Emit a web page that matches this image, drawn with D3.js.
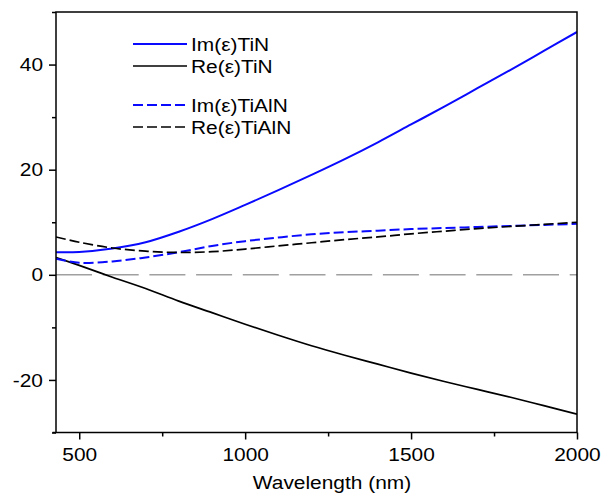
<!DOCTYPE html>
<html>
<head>
<meta charset="utf-8">
<script src="https://cdn.jsdelivr.net/npm/d3@7"></script>
<style>
  body { margin: 0; background: #fff; }
  svg text {
    font-family: "Liberation Sans", Arial, sans-serif;
    font-size: 19px;
    fill: #000;
    transform-box: fill-box;
    transform: scaleX(1.1);
  }
  .anchor-end { transform-origin: right center; }
  .anchor-middle { transform-origin: center center; }
  .anchor-start { transform-origin: left center; }
</style>
</head>
<body>
<div id="chart"></div>
<script>
// wavelength samples (nm) shared by every series
const WAVELENGTH = [430, 500, 600, 700, 800, 900, 1000, 1100, 1200, 1300, 1400, 1500, 1600, 1700, 1800, 1900, 2000];

// permittivity
const IM_TIN = [4.3, 4.35, 5.0, 6.2, 8.2, 10.6, 13.3, 16.1, 19.0, 22.0, 25.2, 28.6, 32.0, 35.5, 39.0, 42.6, 46.2];
const RE_TIN = [3.3, 1.8, -0.45, -2.6, -5.0, -7.2, -9.4, -11.5, -13.5, -15.3, -17.0, -18.7, -20.3, -21.8, -23.3, -24.9, -26.5];
const IM_TIALN = [3.05, 2.3, 2.55, 3.3, 4.3, 5.5, 6.4, 7.1, 7.7, 8.1, 8.4, 8.7, 8.9, 9.1, 9.3, 9.5, 9.7];
const RE_TIALN = [7.2, 6.2, 5.1, 4.5, 4.25, 4.4, 4.9, 5.5, 6.1, 6.7, 7.2, 7.8, 8.3, 8.8, 9.2, 9.6, 10.0];

const SERIES_NAMES = ["Im(ε)TiN", "Re(ε)TiN", "Im(ε)TiAlN", "Re(ε)TiAlN"];
const SERIES_VALUES = [IM_TIN, RE_TIN, IM_TIALN, RE_TIALN];

// ticks
const X_TICKS = [500, 1000, 1500, 2000];
const X_MINOR = [750, 1250, 1750];
const Y_TICKS = [-20, 0, 20, 40];
const Y_MINOR = [-30, -10, 10, 30, 50];

const X_TITLE = "Wavelength (nm)";

const WIDTH = 603;
const HEIGHT = 495;
const PLOT = { left: 56, right: 577, top: 12, bottom: 432.5 };

const svg = d3.select("#chart")
  .append("svg")
  .attr("width", WIDTH)
  .attr("height", HEIGHT);

const xScale = d3.scaleLinear().domain([430, 2000]).range([PLOT.left, PLOT.right]);
const yScale = d3.scaleLinear().domain([-30, 50]).range([PLOT.bottom, PLOT.top]);

// styles per series, same order as SERIES_NAMES
const colors = ["#0a0aff", "#000", "#0a0aff", "#000"];
const dashes = [null, null, "10,4", "10,4"];
const widths = [2, 1.7, 2, 1.7];

svg.append("clipPath").attr("id", "plot-clip")
  .append("rect")
  .attr("x", PLOT.left)
  .attr("y", PLOT.top)
  .attr("width", PLOT.right - PLOT.left)
  .attr("height", PLOT.bottom - PLOT.top);

// zero reference line
svg.append("line")
  .attr("x1", xScale(430))
  .attr("x2", xScale(2000))
  .attr("y1", yScale(0))
  .attr("y2", yScale(0))
  .attr("stroke", "#a0a0a0")
  .attr("stroke-width", 1.5)
  .attr("stroke-dasharray", "36,10.7");

// curves
const line = d3.line()
  .x((d, i) => xScale(WAVELENGTH[i]))
  .y(d => yScale(d))
  .curve(d3.curveCatmullRom.alpha(0.5));

svg.append("g")
  .attr("clip-path", "url(#plot-clip)")
  .selectAll("path")
  .data(SERIES_VALUES)
  .join("path")
  .attr("d", line)
  .attr("fill", "none")
  .attr("stroke", (d, i) => colors[i])
  .attr("stroke-width", (d, i) => widths[i])
  .attr("stroke-dasharray", (d, i) => dashes[i]);

// axes (plain hyphen for negatives, like the original)
const fmt = d => String(d);
const xAxis = svg.append("g")
  .attr("transform", `translate(0, ${PLOT.bottom})`)
  .call(d3.axisBottom(xScale).tickValues(X_TICKS).tickSize(7).tickPadding(5).tickFormat(fmt));
const xMinor = svg.append("g")
  .attr("transform", `translate(0, ${PLOT.bottom})`)
  .call(d3.axisBottom(xScale).tickValues(X_MINOR).tickSize(4).tickFormat(""));

const yAxis = svg.append("g")
  .attr("transform", `translate(${PLOT.left}, 0)`)
  .call(d3.axisLeft(yScale).tickValues(Y_TICKS).tickSize(7).tickPadding(6).tickFormat(fmt));
const yMinor = svg.append("g")
  .attr("transform", `translate(${PLOT.left}, 0)`)
  .call(d3.axisLeft(yScale).tickValues(Y_MINOR).tickSize(4).tickFormat(""));

[xAxis, xMinor, yAxis, yMinor].forEach(g => {
  g.select(".domain").remove();
  g.selectAll("line").attr("stroke", "#000").attr("stroke-width", 1.5);
  g.selectAll("text").attr("font-size", null).attr("font-family", null).attr("fill", null);
});
xAxis.selectAll("text").attr("class", "anchor-middle").attr("dy", "0.85em");
yAxis.selectAll("text").attr("class", "anchor-end");

// frame
svg.append("rect")
  .attr("x", PLOT.left)
  .attr("y", PLOT.top)
  .attr("width", PLOT.right - PLOT.left)
  .attr("height", PLOT.bottom - PLOT.top)
  .attr("fill", "none")
  .attr("stroke", "#000")
  .attr("stroke-width", 1.5);
// bottom axis line sticks out a little on the left
svg.append("line")
  .attr("x1", PLOT.left - 3.5).attr("x2", PLOT.left)
  .attr("y1", PLOT.bottom).attr("y2", PLOT.bottom)
  .attr("stroke", "#000").attr("stroke-width", 1.5);

// axis title
svg.append("text")
  .attr("class", "anchor-middle")
  .attr("x", 332)
  .attr("y", 489)
  .attr("text-anchor", "middle")
  .text(X_TITLE);

// legend
const legend = svg.append("g").attr("class", "legend");
const rowY = i => 44 + i * 22 + (i >= 2 ? 17 : 0);
const legendRow = legend.selectAll("g")
  .data(SERIES_NAMES)
  .join("g")
  .attr("transform", (d, i) => `translate(0, ${rowY(i)})`);
legendRow.append("line")
  .attr("x1", 133)
  .attr("x2", 187)
  .attr("stroke", (d, i) => colors[i])
  .attr("stroke-width", (d, i) => widths[i])
  .attr("stroke-dasharray", (d, i) => dashes[i]);
legendRow.append("text")
  .attr("class", "anchor-start")
  .attr("x", 191)
  .attr("dy", "0.36em")
  .text(d => d);
</script>
</body>
</html>
